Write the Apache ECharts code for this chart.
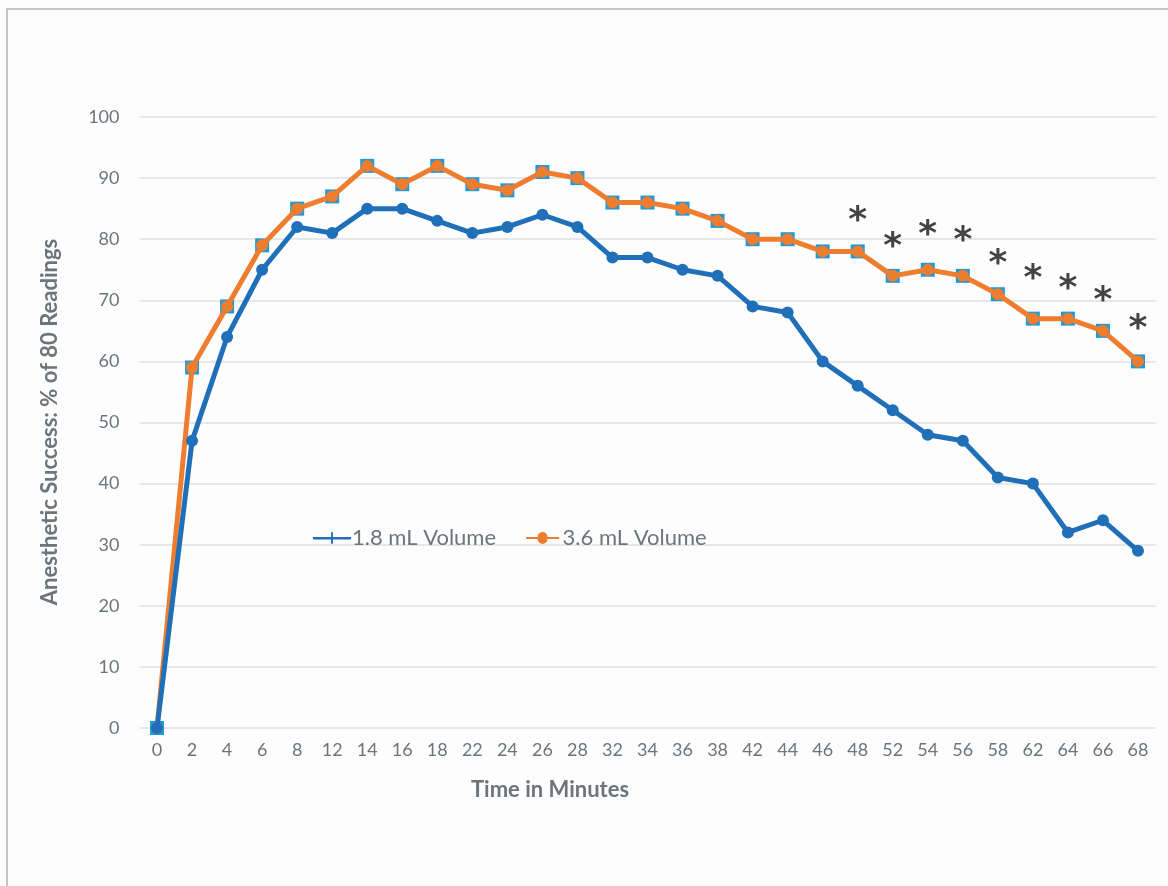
<!DOCTYPE html>
<html>
<head>
<meta charset="utf-8">
<script src="https://cdn.jsdelivr.net/npm/echarts@6/dist/echarts.min.js"></script>
<style>
  html, body { margin: 0; padding: 0; background: #fdfdfd; }
  #main { width: 1168px; height: 886px; }
</style>
</head>
<body>
<div id="main"></div>
<script>
var chart = echarts.init(document.getElementById('main'));

var minutes = ['0', '2', '4', '6', '8', '12', '14', '16', '18', '22', '24', '26', '28', '32',
    '34', '36', '38', '42', '44', '46', '48', '52', '54', '56', '58', '62', '64', '66', '68'];

var vol18 = [0, 47, 64, 75, 82, 81, 85, 85, 83, 81, 82, 84, 82, 77,
    77, 75, 74, 69, 68, 60, 56, 52, 48, 47, 41, 40, 32, 34, 29];

var vol36 = [0, 59, 69, 79, 85, 87, 92, 89, 92, 89, 88, 91, 90, 86,
    86, 85, 83, 80, 80, 78, 78, 74, 75, 74, 71, 67, 67, 65, 60];

// where the significance stars sit (height in axis units)
var starMinutes = ['48', '52', '54', '56', '58', '62', '64', '66', '68'];
var starHeights = [84.5, 80.2, 82.2, 81.2, 77.4, 75.0, 73.3, 71.4, 66.8];

var yTicks = [0, 10, 20, 30, 40, 50, 60, 70, 80, 90, 100];

var textColor = '#6b757b';
var font = 'Lato, "Open Sans", sans-serif';

var starData = starMinutes.map(function (m, i) { return [m, starHeights[i]]; });

var option = {
    backgroundColor: '#fdfdfd',
    animation: false,
    textStyle: { fontFamily: font },
    graphic: [
        {
            type: 'rect',
            shape: { x: 7, y: 9, width: 1200, height: 900 },
            style: { fill: 'none', stroke: '#b4b4b4', lineWidth: 1.5 },
            silent: true
        },
        {
            type: 'text',
            left: 471, top: 779,
            style: { text: 'Time in Minutes', fontSize: 22, fontWeight: 'bold', fill: textColor, fontFamily: font }
        },
        {
            type: 'text',
            x: 50, y: 422,
            rotation: Math.PI / 2,
            style: {
                text: 'Anesthetic Success: % of 80 Readings',
                fontSize: 22, fontWeight: 'bold', fill: textColor, fontFamily: font,
                align: 'center', verticalAlign: 'middle'
            }
        }
    ],
    legend: {
        left: 308,
        top: 522,
        itemWidth: 38,
        itemHeight: 12,
        itemGap: 30,
        textStyle: { fontSize: 22, color: textColor, fontFamily: font, padding: [0, 0, 0, -4] },
        data: [
            { name: '1.8 mL Volume', icon: 'path://M0,5 L40,5 L40,7.5 L0,7.5 Z M19,0 L21,0 L21,12 L19,12 Z', itemStyle: { color: '#1f6fb9' } },
            { name: '3.6 mL Volume', icon: 'path://M0,5 L14,5 A6,6 0 0 1 26,5 L40,5 L40,7.5 L26,7.5 A6,6 0 0 1 14,7.5 L0,7.5 Z', itemStyle: { color: '#ef7d2f' } }
        ]
    },
    grid: {
        left: 139.5,
        right: 12.5,
        top: 117,
        bottom: 158
    },
    xAxis: {
        type: 'category',
        data: minutes,
        boundaryGap: true,
        axisLine: { show: false },
        axisTick: { show: false },
        axisLabel: { color: textColor, fontSize: 18, margin: 13, interval: 0, fontFamily: font }
    },
    yAxis: {
        type: 'value',
        min: yTicks[0],
        max: yTicks[yTicks.length - 1],
        interval: 10,
        axisLine: { show: false },
        axisTick: { show: false },
        axisLabel: { color: textColor, fontSize: 18, margin: 20, fontFamily: font },
        splitLine: { lineStyle: { color: '#dde1e4', width: 1.5 } }
    },
    series: [
        {
            name: 'squares',
            type: 'line',
            data: vol36,
            symbol: 'rect',
            symbolSize: 14,
            lineStyle: { width: 0, opacity: 0 },
            itemStyle: { color: '#1f9ad8' },
            z: 1,
            silent: true
        },
        {
            name: '1.8 mL Volume',
            type: 'line',
            data: vol18,
            symbol: 'circle',
            symbolSize: 12,
            showAllSymbol: true,
            lineStyle: { color: '#1f6fb9', width: 5 },
            itemStyle: { color: '#1f6fb9' },
            z: 3
        },
        {
            name: '3.6 mL Volume',
            type: 'line',
            data: vol36,
            symbol: 'circle',
            symbolSize: 12,
            showAllSymbol: true,
            lineStyle: { color: '#ef7d2f', width: 5 },
            itemStyle: { color: '#ef7d2f' },
            z: 2
        },
        {
            name: 'stars',
            type: 'scatter',
            data: starData,
            symbolSize: 0,
            silent: true,
            label: {
                show: true,
                position: 'inside',
                formatter: '*',
                fontSize: 36,
                fontWeight: 'bold',
                color: '#141414',
                fontFamily: '"DejaVu Sans", sans-serif',
                offset: [0, 10]
            }
        }
    ]
};

chart.setOption(option);
</script>
</body>
</html>
